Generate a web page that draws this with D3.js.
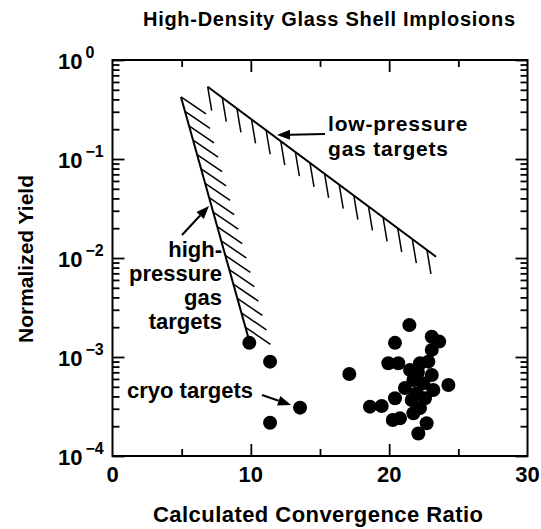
<!DOCTYPE html>
<html><head><meta charset="utf-8">
<script src="https://cdn.jsdelivr.net/npm/d3@7"></script>
<style>
html,body{margin:0;padding:0;background:#fff;}
svg{display:block;}
text{font-family:"Liberation Sans",Arial,Helvetica,sans-serif;font-weight:bold;fill:#000;}
</style></head>
<body>
<script>
// ---- data ----
const title = "High-Density Glass Shell Implosions";
const xLabel = "Calculated Convergence Ratio";
const yLabel = "Normalized Yield";
const xTickValues = [0, 10, 20, 30];
const xMinorTicks = [5, 15, 25];
const yTickExponents = [0, -1, -2, -3, -4];

// cryo target shots (convergence ratio, normalized yield)
const cryoX = [9.89, 11.39, 13.56, 11.39, 17.12,
  21.46, 20.42, 23.08, 23.62, 23.08, 19.94, 20.66, 22.23, 22.83, 21.51,
  21.75, 23.08, 22.47, 24.28, 23.19, 21.99, 21.63, 22.59, 20.42, 18.61,
  19.46, 21.75, 20.26, 20.78, 22.71, 22.11, 22.08, 21.14, 22.23];
const cryoY = [0.00139, 0.000897, 0.000308, 0.000217, 0.000673,
  0.00210, 0.00139, 0.00160, 0.00143, 0.00118, 0.000864, 0.000864, 0.000864, 0.000897, 0.000739,
  0.000586, 0.000658, 0.000542, 0.000521, 0.000464, 0.000430, 0.000368, 0.000383, 0.000383, 0.000315,
  0.000320, 0.000270, 0.000231, 0.000240, 0.000214, 0.000169, 0.000705, 0.000486, 0.000305];

// limit lines
const lowX = [6.88, 23.39];
const lowY = [0.537, 0.0103];
const highX = [4.95, 9.87];
const highY = [0.423, 0.00148];

// ---- layout ----
const W = 541, H = 529;
const x = d3.scaleLinear().domain([0, 30]).range([112.5, 527.5]);
const y = d3.scaleLog().domain([1e-4, 1]).range([456, 60]);

const svg = d3.select("body").append("svg").attr("width", W).attr("height", H);

// frame
svg.append("rect").attr("x", x(0)).attr("y", y(1))
  .attr("width", x(30) - x(0)).attr("height", y(1e-4) - y(1))
  .attr("fill", "none").attr("stroke", "#000").attr("stroke-width", 2);

// y ticks (major and minor), inward on left and right
const yMajor = yTickExponents.map(e => Math.pow(10, e));
const yMinor = [];
for (let e = -4; e < 0; e++) for (let m = 2; m <= 9; m++) yMinor.push(m * Math.pow(10, e));

function styleAxis(g) {
  g.select(".domain").remove();
  g.selectAll(".tick line").attr("stroke", "#000").attr("stroke-width", 1.8);
  g.selectAll(".tick text").remove();
}
svg.append("g").attr("transform", `translate(${x(0)},0)`)
  .call(d3.axisLeft(y).tickValues(yMajor).tickSize(-12).tickFormat("")).call(styleAxis);
svg.append("g").attr("transform", `translate(${x(0)},0)`)
  .call(d3.axisLeft(y).tickValues(yMinor).tickSize(-7).tickFormat("")).call(styleAxis);
svg.append("g").attr("transform", `translate(${x(30)},0)`)
  .call(d3.axisRight(y).tickValues(yMajor).tickSize(-12).tickFormat("")).call(styleAxis);
svg.append("g").attr("transform", `translate(${x(30)},0)`)
  .call(d3.axisRight(y).tickValues(yMinor).tickSize(-7).tickFormat("")).call(styleAxis);

// x ticks
const xMajorInner = [10, 20];
svg.append("g").attr("transform", `translate(0,${y(1e-4)})`)
  .call(d3.axisBottom(x).tickValues(xMajorInner).tickSize(-12).tickFormat("")).call(styleAxis);
svg.append("g").attr("transform", `translate(0,${y(1e-4)})`)
  .call(d3.axisBottom(x).tickValues(xMinorTicks).tickSize(-7).tickFormat("")).call(styleAxis);
svg.append("g").attr("transform", `translate(0,${y(1)})`)
  .call(d3.axisTop(x).tickValues(xMajorInner).tickSize(-12).tickFormat("")).call(styleAxis);
svg.append("g").attr("transform", `translate(0,${y(1)})`)
  .call(d3.axisTop(x).tickValues(xMinorTicks).tickSize(-7).tickFormat("")).call(styleAxis);

// x tick labels
svg.append("g").selectAll("text").data(xTickValues).join("text")
  .attr("x", d => x(d)).attr("y", 482).attr("text-anchor", "middle")
  .attr("font-size", 22).text(d => d);

// y tick labels
const yl = svg.append("g").selectAll("text").data(yTickExponents).join("text")
  .attr("x", 58).attr("y", d => y(Math.pow(10, d)) + 9).attr("font-size", 22);
yl.append("tspan").text("10");
yl.append("tspan").attr("dx", 3).attr("dy", -11).attr("font-size", 16)
  .text(d => d === 0 ? "0" : "\u2212" + Math.abs(d));

// titles
svg.append("text").attr("x", 329).attr("y", 26).attr("text-anchor", "middle")
  .attr("font-size", 20).attr("textLength", 372).attr("lengthAdjust", "spacing").text(title);
svg.append("text").attr("x", 318).attr("y", 522).attr("text-anchor", "middle")
  .attr("font-size", 22).attr("textLength", 330).attr("lengthAdjust", "spacing").text(xLabel);
svg.append("text").attr("transform", "translate(33,259) rotate(-90)").attr("text-anchor", "middle")
  .attr("font-size", 21).text(yLabel);

// limit lines with hatching
function hatchedLine(xs, ys, n, tEnd, dx, dy) {
  const p0 = [x(xs[0]), y(ys[0])], p1 = [x(xs[1]), y(ys[1])];
  svg.append("line").attr("x1", p0[0]).attr("y1", p0[1]).attr("x2", p1[0]).attr("y2", p1[1])
    .attr("stroke", "#000").attr("stroke-width", 2);
  const ts = d3.range(n).map(i => i * tEnd / (n - 1));
  svg.append("g").selectAll("line").data(ts).join("line")
    .attr("x1", t => p0[0] + t * (p1[0] - p0[0]))
    .attr("y1", t => p0[1] + t * (p1[1] - p0[1]))
    .attr("x2", t => p0[0] + t * (p1[0] - p0[0]) + dx)
    .attr("y2", t => p0[1] + t * (p1[1] - p0[1]) + dy)
    .attr("stroke", "#000").attr("stroke-width", 1.5);
}
hatchedLine(lowX, lowY, 16, 0.96, 4, 24);
hatchedLine(highX, highY, 17, 0.947, 25, 17);

// points
svg.append("g").selectAll("circle").data(cryoX.map((v, i) => [v, cryoY[i]])).join("circle")
  .attr("cx", d => x(d[0])).attr("cy", d => y(d[1])).attr("r", 7).attr("fill", "#000");

// annotations
function arrow(x1, y1, x2, y2) {
  const ang = Math.atan2(y2 - y1, x2 - x1), L = 13, Wd = 5;
  const bx = x2 - L * Math.cos(ang), by = y2 - L * Math.sin(ang);
  svg.append("line").attr("x1", x1).attr("y1", y1).attr("x2", bx).attr("y2", by)
    .attr("stroke", "#000").attr("stroke-width", 2);
  svg.append("path").attr("d", `M${x2},${y2}L${bx + Wd * Math.sin(ang)},${by - Wd * Math.cos(ang)}L${bx - Wd * Math.sin(ang)},${by + Wd * Math.cos(ang)}Z`)
    .attr("fill", "#000");
}
function label(lines, xp, yp, anchor, lh, ls, fs) {
  const t = svg.append("text").attr("x", xp).attr("y", yp).attr("text-anchor", anchor)
    .attr("font-size", fs).attr("letter-spacing", ls);
  lines.forEach((s, i) => t.append("tspan").attr("x", xp).attr("dy", i === 0 ? 0 : lh).text(s));
}
label(["low-pressure", "gas targets"], 328, 131, "start", 25, 0.8, 21);
arrow(325, 134, 277, 135);
label(["high-", "pressure", "gas", "targets"], 222, 257, "end", 24, 0, 22);
arrow(182, 235, 209, 206);
label(["cryo targets"], 127, 398, "start", 22, 0, 22);
arrow(262, 395, 291, 405);
</script>
</body></html>
